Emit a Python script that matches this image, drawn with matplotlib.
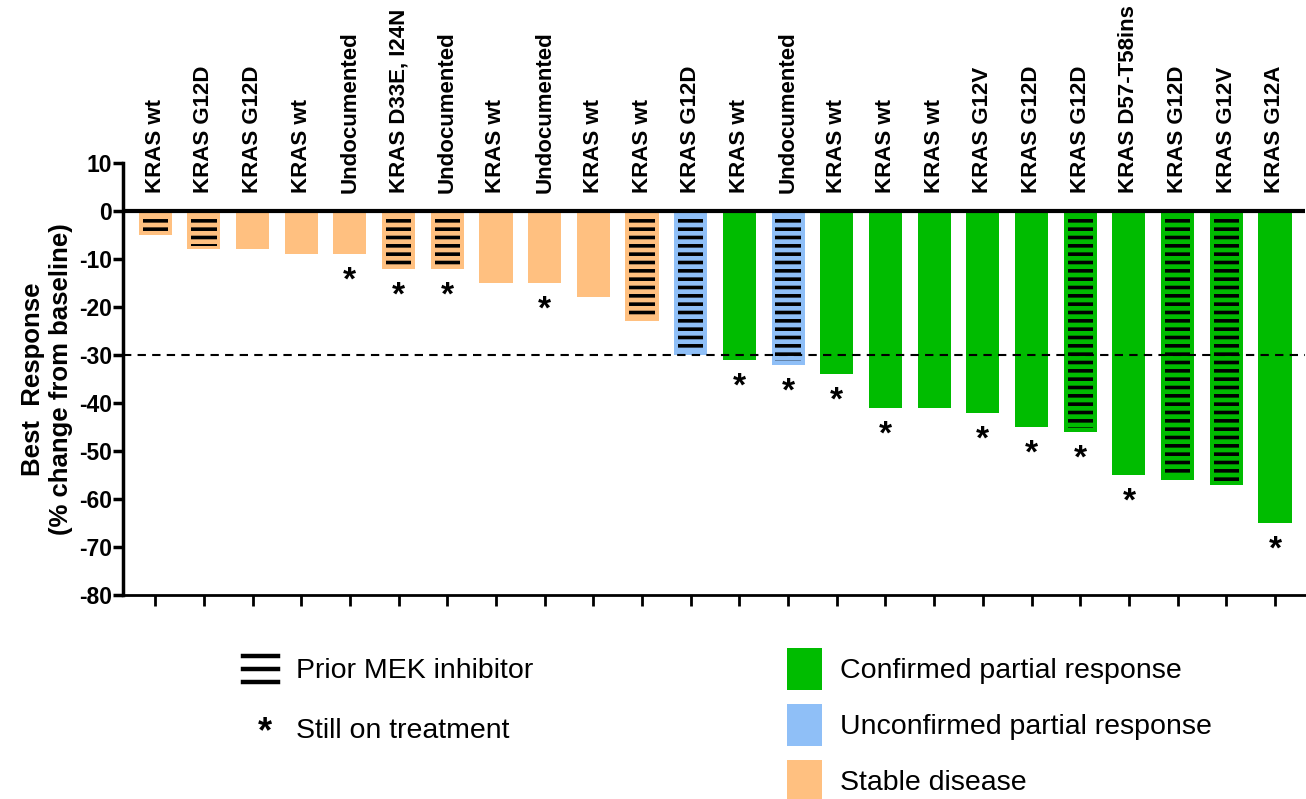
import numpy as np
import matplotlib
matplotlib.use("Agg")
import matplotlib.pyplot as plt
from matplotlib.patches import Patch
from matplotlib.lines import Line2D
from matplotlib.legend_handler import HandlerBase

plt.rcParams['font.family'] = ['Liberation Sans', 'DejaVu Sans']
plt.rcParams['axes.unicode_minus'] = False
plt.rcParams['hatch.linewidth'] = 2.6

# 数据
labels = ['KRAS wt', 'KRAS G12D', 'KRAS G12D', 'KRAS wt', 'Undocumented', 'KRAS D33E, I24N',
          'Undocumented', 'KRAS wt', 'Undocumented', 'KRAS wt', 'KRAS wt', 'KRAS G12D',
          'KRAS wt', 'Undocumented', 'KRAS wt', 'KRAS wt', 'KRAS wt', 'KRAS G12V',
          'KRAS G12D', 'KRAS G12D', 'KRAS D57-T58ins', 'KRAS G12D', 'KRAS G12V', 'KRAS G12A']
values = [-5, -8, -8, -9, -9, -12, -12, -15, -15, -18, -23, -30,
          -31, -32, -34, -41, -41, -42, -45, -46, -55, -56, -57, -65]
response = ['SD'] * 11 + ['uPR', 'cPR', 'uPR'] + ['cPR'] * 10
prior_mek = [1, 1, 0, 0, 0, 1, 1, 0, 0, 0, 1, 1, 0, 1, 0, 0, 0, 0, 0, 1, 0, 1, 1, 0]
still_on = [0, 0, 0, 0, 1, 1, 1, 0, 1, 0, 0, 0, 1, 1, 1, 1, 0, 1, 1, 1, 1, 0, 0, 1]

colors = {'cPR': '#00BC00', 'uPR': '#8FBFF7', 'SD': '#FFC080'}
names = {'cPR': 'Confirmed partial response', 'uPR': 'Unconfirmed partial response',
         'SD': 'Stable disease'}

fig = plt.figure(figsize=(13.06, 7.99), dpi=100)
ax = fig.add_axes([0.0942, 0.2553, 0.9048, 0.5407])

x = np.arange(len(values))
ax.bar(x, values, width=0.68, color=[colors[r] for r in response], zorder=2)

# 之前用过MEK抑制剂: 横线填充
for i in x:
    if prior_mek[i]:
        ax.bar(i, values[i] + 1.6, bottom=-0.8, width=0.52, facecolor='none',
               edgecolor='black', linewidth=0, hatch='--', zorder=3)

# 仍在治疗: 星号
for i in x:
    if still_on[i]:
        ax.text(i, values[i] - 2.4, '*', ha='center', va='top', fontsize=24,
                fontweight='bold', zorder=4)

# 顶部标签
for i in x:
    ax.text(i, 3.8, labels[i], rotation=90, ha='center', va='bottom',
            fontsize=16, fontweight='bold', clip_on=False)

ax.axhline(0, color='black', lw=3, zorder=4)
ax.axhline(-30, color='black', lw=1.5, ls=(0, (4, 3)), zorder=4)

ax.set_xlim(-0.66, 23.61)
ax.set_ylim(-80, 10)
ax.set_yticks(np.arange(-80, 11, 10))
ax.set_xticks(x)
ax.set_xticklabels([])
for lab in ax.get_yticklabels():
    lab.set_fontweight('bold')
ax.tick_params(axis='y', labelsize=16.5, length=7, width=2.5, pad=1)
ax.tick_params(axis='x', length=8, width=2)
ax.spines['top'].set_visible(False)
ax.spines['right'].set_visible(False)
ax.spines['left'].set_linewidth(2.5)
ax.spines['bottom'].set_linewidth(2)
ax.set_ylabel('Best  Response\n(% change from baseline)', fontsize=18.5,
              fontweight='bold', labelpad=4)


class HandlerMEK(HandlerBase):
    def create_artists(self, legend, orig_handle, xdescent, ydescent, width, height, fontsize, trans):
        arts = []
        for f in (0.2, 0.5, 0.8):
            y = -ydescent + height * f
            arts.append(Line2D([-xdescent, -xdescent + width], [y, y], color='black',
                               lw=3.2, transform=trans))
        return arts


class HandlerStar(HandlerBase):
    def create_artists(self, legend, orig_handle, xdescent, ydescent, width, height, fontsize, trans):
        t = plt.Text(-xdescent + width / 2 + 3, -ydescent + height * 0.42, '*', ha='center',
                     va='center', fontsize=26, fontweight='bold', transform=trans)
        return [t]


fs = 20.5
mek_handle = Patch(facecolor='none')
star_handle = Line2D([], [])
leg1 = fig.legend([mek_handle, star_handle], ['Prior MEK inhibitor', 'Still on treatment'],
                  handler_map={mek_handle: HandlerMEK(), star_handle: HandlerStar()},
                  loc='upper left', bbox_to_anchor=(243 / 1306, 1 - 648 / 799),
                  frameon=False, fontsize=fs, handlelength=1.23, handleheight=1.89,
                  handletextpad=0.63, labelspacing=0.63, borderpad=0, borderaxespad=0)

resp_handles = [Patch(facecolor=colors[k]) for k in ['cPR', 'uPR', 'SD']]
leg2 = fig.legend(resp_handles, [names[k] for k in ['cPR', 'uPR', 'SD']],
                  loc='upper left', bbox_to_anchor=(787 / 1306, 1 - 648 / 799),
                  frameon=False, fontsize=fs, handlelength=1.23, handleheight=1.89,
                  handletextpad=0.63, labelspacing=0.49, borderpad=0, borderaxespad=0)

fig.savefig('out.png', dpi=100)
